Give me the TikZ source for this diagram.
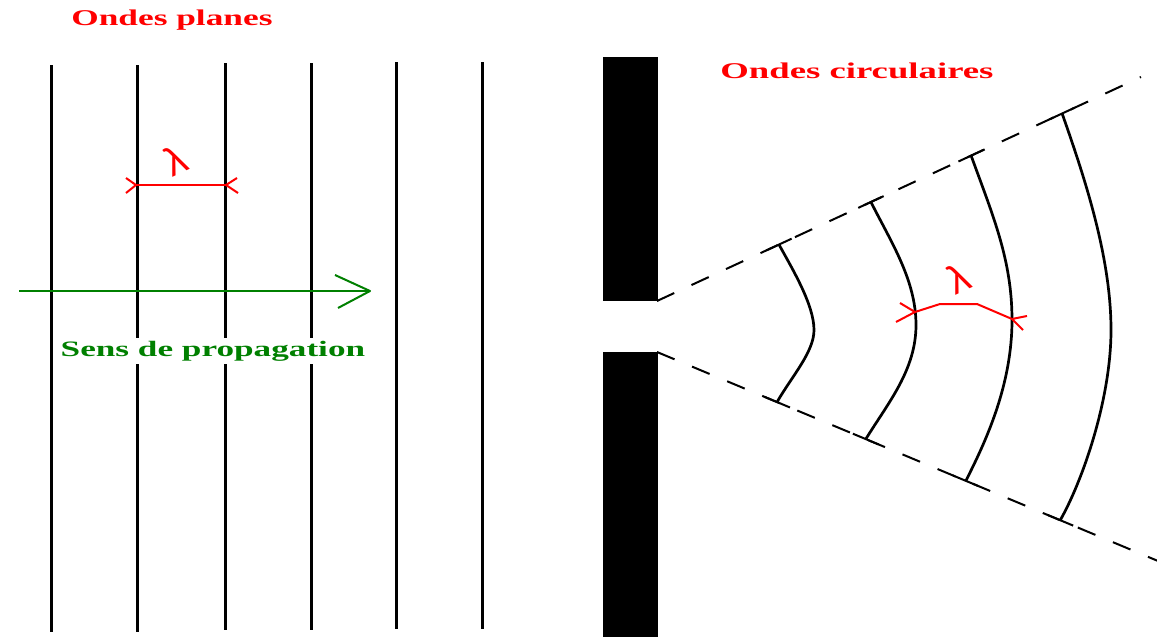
\documentclass[tikz,border=0pt]{standalone}
\usepackage{fontspec}
\setmainfont{Liberation Serif}
\newfontfamily\lamfont{Liberation Sans}
\usetikzlibrary{calc}
\definecolor{wred}{RGB}{255,0,0}
\definecolor{wgreen}{RGB}{0,128,0}
\begin{document}
\begin{tikzpicture}[x=1pt,y=-1pt,
  wave/.style={line width=3pt},
  arcw/.style={line width=2.7pt, line join=round},
  guide/.style={line width=2pt, dash pattern=on 19pt off 19pt},
  tickmark/.style={line width=2pt},
  lam/.style={draw=wred, line width=2pt, line join=round},
  lamtext/.style={text=wred, font=\lamfont\fontsize{40}{40}\selectfont, rotate=25, inner sep=0pt},
  title/.style={text=wred, font=\fontsize{22.5}{26}\selectfont\bfseries, xscale=1.57, inner sep=0pt, anchor=base west},
  prop/.style={text=wgreen, font=\fontsize{22}{26}\selectfont\bfseries, xscale=1.6, inner xsep=1.5pt, inner ysep=3pt, fill=white, anchor=base west},
  arrowline/.style={draw=wgreen, line width=2pt, line join=round}]
\useasboundingbox (0,0) rectangle (1157,637);
\fill[white] (0,0) rectangle (1157,637);

% plane wave fronts
\foreach \x/\t/\b in {51/65/632, 137/65/632, 225/63/630, 311/63/630, 396/62/629, 482/62/629}
  \draw[wave] (\x,\t) -- (\x,\b);

% propagation arrow
\coordinate (arrS) at (19,291);
\coordinate (arrE) at (370,291);
\draw[arrowline] (arrS) -- (arrE);
\draw[arrowline] (arrE) ++(-35,-16) -- (arrE) -- ++(-32,17);
\node[prop] (sens) at (58,356) {Sens de propagation};

% titles
\node[title] (planes) at (71,25) {Ondes planes};
\node[title, xscale=1.04] (circ) at (720,78) {Ondes circulaires};

% wavelength on plane waves
\coordinate (lA) at (136,185);
\coordinate (lB) at (226,185);
\draw[lam] (lA) -- (lB);
\draw[lam] (lA) ++(-10,-7) -- (lA) -- ++(-10,8);
\draw[lam] (lB) ++(11,-7) -- (lB) -- ++(12,8);
\node[lamtext] (lam1) at (175,160) {λ};

% barrier with slit
\fill[black] (603,57) rectangle (658,301);
\fill[black] (603,352) rectangle (658,637);

% diffraction cone
\coordinate (gT) at (657,301);
\coordinate (gB) at (657,352);
\coordinate (eT) at (1141,77);
\coordinate (eB) at (1170,566);
\draw[guide] (gT) -- (eT);
\draw[guide] (gB) -- (eB);

\foreach \n/\t in {1/0.252, 2/0.442, 3/0.649, 4/0.837}
  \coordinate (u\n) at ($(gT)!\t!(eT)$);
\foreach \n/\t in {1/0.234, 2/0.407, 3/0.602, 4/0.786}
  \coordinate (d\n) at ($(gB)!\t!(eB)$);

\foreach \n in {1,2,3,4}{
  \draw[tickmark] ($(u\n)!14pt!(eT)$) -- ($(u\n)!-14pt!(eT)$);
  \draw[tickmark] ($(d\n)!14pt!(eB)$) -- ($(d\n)!-14pt!(eB)$);
}

% circular wave fronts
\coordinate (m1) at (814,330);
\coordinate (m2) at (916,325);
\coordinate (m3) at (1012,320);
\coordinate (m4) at (1111,330);
\draw[arcw] (u1) .. controls (793,270) and (814,305) .. (m1) .. controls (814,352) and (792,376) .. (d1);
\draw[arcw] (u2) .. controls (891,242) and (916,280) .. (m2) .. controls (916,370) and (888,403) .. (d2);
\draw[arcw] (u3) .. controls (993,216) and (1012,260) .. (m3) .. controls (1012,385) and (986,441) .. (d3);
\draw[arcw] (u4) .. controls (1087,184) and (1111,260) .. (m4) .. controls (1111,400) and (1082,482) .. (d4);

% wavelength on circular waves
\coordinate (cA) at (915,312);
\coordinate (cB) at (1012,319);
\draw[lam] (cA) -- (940,304) -- (977,304) -- (cB);
\draw[lam] (cA) ++(-15,-9) -- (cA) -- ++(-19,10);
\draw[lam] (cB) ++(15,-3) -- (cB) -- ++(11,11);
\node[lamtext] (lam2) at (958,278) {λ};
\end{tikzpicture}
\end{document}
